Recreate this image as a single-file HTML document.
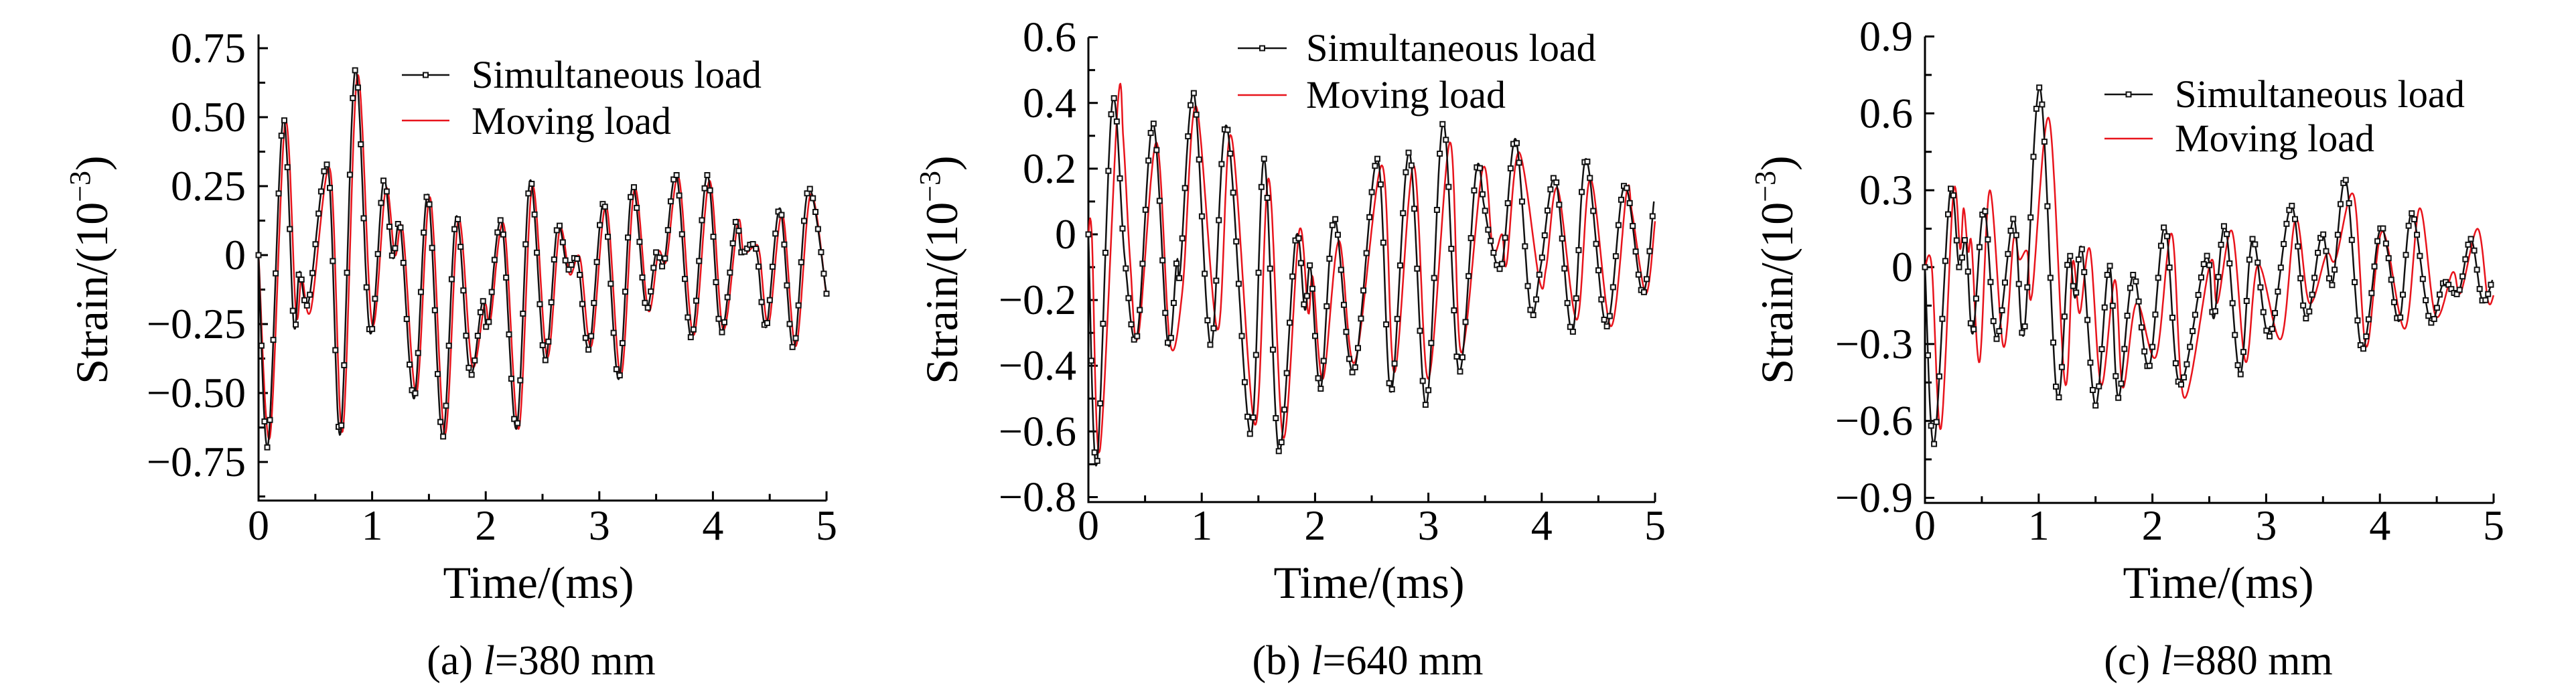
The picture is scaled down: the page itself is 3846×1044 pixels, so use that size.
<!DOCTYPE html>
<html><head><meta charset="utf-8"><style>
html,body{margin:0;padding:0;background:#fff;}
svg, svg text{font-family:"Liberation Serif","Times New Roman","DejaVu Serif",serif;}
</style></head><body>
<svg id="fig" width="3846" height="1039" viewBox="0 0 3846 1039" font-family="Liberation Serif, DejaVu Serif, serif" xmlns="http://www.w3.org/2000/svg"></svg>
<script>
// ---- Panel (a) l=380 mm ----
const aSimT=[0,0.083,0.215,0.31,0.36,0.44,0.61,0.72,0.85,0.98,1.10,1.18,1.25,1.37,1.49,1.62,1.74,1.86,1.97,2.02,2.14,2.27,2.39,2.52,2.63,2.72,2.81,2.91,3.04,3.17,3.29,3.41,3.50,3.57,3.68,3.81,3.95,4.07,4.20,4.25,4.34,4.39,4.47,4.59,4.71,4.84,5.0];
const aSimV=[0,-0.69,0.49,-0.25,-0.06,-0.17,0.32,-0.65,0.67,-0.28,0.27,-0.01,0.10,-0.52,0.22,-0.66,0.14,-0.43,-0.17,-0.26,0.12,-0.63,0.27,-0.38,0.10,-0.05,-0.02,-0.34,0.19,-0.45,0.25,-0.19,0.01,-0.03,0.29,-0.30,0.29,-0.28,0.12,0.01,0.04,0.0,-0.26,0.17,-0.34,0.24,-0.14];
const aMovT=[0,0.10,0.235,0.33,0.38,0.46,0.63,0.74,0.87,1.00,1.12,1.20,1.27,1.39,1.51,1.64,1.76,1.88,1.99,2.04,2.16,2.29,2.41,2.54,2.65,2.74,2.83,2.93,3.06,3.19,3.31,3.43,3.52,3.59,3.70,3.83,3.97,4.09,4.22,4.27,4.36,4.41,4.49,4.61,4.73,4.86,5.0];
const aMovV=[0,-0.66,0.48,-0.21,-0.08,-0.20,0.31,-0.64,0.65,-0.25,0.24,0.00,0.09,-0.50,0.21,-0.65,0.13,-0.40,-0.18,-0.24,0.11,-0.63,0.25,-0.37,0.09,-0.07,-0.01,-0.33,0.18,-0.44,0.24,-0.20,0.01,-0.02,0.28,-0.29,0.27,-0.27,0.12,0.01,0.03,0.01,-0.25,0.15,-0.33,0.22,-0.15];
const aYTicks=[-0.75,-0.5,-0.25,0,0.25,0.5,0.75];
const aYLabels=["−0.75","−0.50","−0.25","0","0.25","0.50","0.75"];
// ---- Panel (b) l=640 mm ----
const bSimT=[0,0.074,0.21,0.32,0.43,0.57,0.70,0.78,0.81,0.93,1.08,1.22,1.43,1.55,1.68,1.83,1.91,1.96,2.05,2.17,2.34,2.55,2.67,2.83,2.98,3.13,3.27,3.42,3.49,3.55,3.65,3.77,3.90,3.99,4.12,4.27,4.39,4.57,4.73,4.89,4.99];
const bSimV=[0,-0.70,0.40,-0.07,-0.31,0.34,-0.33,-0.08,-0.11,0.43,-0.34,0.33,-0.61,0.23,-0.66,-0.01,-0.23,-0.10,-0.47,0.05,-0.42,0.23,-0.48,0.25,-0.52,0.34,-0.42,0.19,0.09,-0.02,-0.09,0.29,-0.23,-0.10,0.17,-0.30,0.23,-0.28,0.15,-0.18,0.10];
const bMovT=[0,0.03,0.10,0.26,0.31,0.37,0.44,0.60,0.72,0.83,0.95,1.14,1.26,1.47,1.59,1.72,1.86,1.94,1.98,2.07,2.21,2.35,2.59,2.70,2.87,3.00,3.19,3.29,3.48,3.57,3.65,3.69,3.80,3.98,4.04,4.14,4.31,4.43,4.61,4.75,4.80,4.92,5.0];
const bMovV=[0,0,-0.66,0.40,0.28,-0.09,-0.31,0.28,-0.33,-0.17,0.39,-0.29,0.30,-0.58,0.17,-0.62,0.01,-0.24,-0.13,-0.44,-0.02,-0.39,0.21,-0.42,0.21,-0.44,0.28,-0.36,0.20,-0.05,0.0,-0.09,0.25,-0.14,-0.10,0.14,-0.26,0.17,-0.28,0.13,0.06,-0.18,0.04];
const bYTicks=[-0.8,-0.6,-0.4,-0.2,0,0.2,0.4,0.6];
const bYLabels=["−0.8","−0.6","−0.4","−0.2","0","0.2","0.4","0.6"];
// ---- Panel (c) l=880 mm ----
const cSimT=[0,0.08,0.22,0.30,0.36,0.42,0.52,0.63,0.78,0.87,1.01,1.16,1.26,1.32,1.38,1.50,1.62,1.70,1.83,1.97,2.11,2.24,2.47,2.54,2.64,2.77,2.88,3.03,3.22,3.35,3.49,3.58,3.70,3.84,3.99,4.06,4.17,4.28,4.44,4.56,4.69,4.80,4.90,4.99];
const cSimV=[0,-0.69,0.29,0,0.10,-0.26,0.23,-0.28,0.19,-0.26,0.70,-0.50,0.04,-0.12,0.07,-0.54,0.01,-0.51,-0.03,-0.39,0.16,-0.46,0.04,-0.20,0.16,-0.42,0.11,-0.27,0.24,-0.20,0.13,-0.07,0.34,-0.32,0.13,0.08,-0.21,0.21,-0.21,-0.06,-0.10,0.11,-0.13,-0.05];
const cMovT=[0,0.06,0.14,0.25,0.31,0.34,0.38,0.41,0.48,0.57,0.69,0.78,0.83,0.90,0.94,1.09,1.23,1.30,1.36,1.45,1.55,1.67,1.74,1.86,2.03,2.17,2.28,2.51,2.57,2.70,2.82,2.93,3.13,3.26,3.38,3.53,3.61,3.77,3.88,4.02,4.22,4.35,4.49,4.64,4.71,4.86,4.95,5.0];
const cMovV=[0,0,-0.63,0.29,0.07,0.23,0.06,0.09,-0.37,0.30,-0.31,0.11,0.03,0.06,-0.11,0.58,-0.45,0.02,-0.18,0.07,-0.46,-0.05,-0.47,-0.14,-0.35,0.13,-0.51,0.02,-0.14,0.14,-0.37,0.01,-0.28,0.19,-0.14,0.05,0.03,0.28,-0.31,0.14,-0.24,0.23,-0.19,-0.02,-0.10,0.15,-0.13,-0.11];
const cYTicks=[-0.9,-0.6,-0.3,0,0.3,0.6,0.9];
const cYLabels=["−0.9","−0.6","−0.3","0","0.3","0.6","0.9"];
const xTicks=[0,1,2,3,4,5];
const xLabels=["0","1","2","3","4","5"];

const NS="http://www.w3.org/2000/svg";
const FF='"Liberation Serif","Times New Roman","DejaVu Serif",serif';
const svg=document.getElementById('fig');
function mk(tag,attrs,parent,text){const e=document.createElementNS(NS,tag);for(const k in attrs)e.setAttribute(k,attrs[k]);if(tag==='text')e.setAttribute('style','font-family:'+FF);if(text!==undefined)e.textContent=text;(parent||svg).appendChild(e);return e;}

const panels=[
 {id:'a',x0:386,x5:1234,y0:381,k:412,yMin:-0.89,yMax:0.8,minorStep:0.125,yt:aYTicks,yl:aYLabels,sT:aSimT,sV:aSimV,mT:aMovT,mV:aMovV,
  labR:367,titleX:160,cap:"380",capX:808,titleCX:804,legLine:[600,671],legText:704,legY:[112,180],legBase:[131,200]},
 {id:'b',x0:1625,x5:2471,y0:350,k:490.6,yMin:-0.815,yMax:0.6,minorStep:0.1,yt:bYTicks,yl:bYLabels,sT:bSimT,sV:bSimV,mT:bMovT,mV:bMovV,
  labR:1607,titleX:1429,cap:"640",capX:2042,titleCX:2044,legLine:[1848,1921],legText:1950,legY:[72,142],legBase:[91,161]},
 {id:'c',x0:2874,x5:3723,y0:399,k:382.8,yMin:-0.92,yMax:0.9,minorStep:0.15,yt:cYTicks,yl:cYLabels,sT:cSimT,sV:cSimV,mT:cMovT,mV:cMovV,
  labR:2856,titleX:2676,cap:"880",capX:3312,titleCX:3312,legLine:[3142,3214],legText:3247,legY:[141,207],legBase:[160,226]}
];

function sample(T,V,step){
  const out=[];
  for(let i=0;i<T.length-1;i++){
    const p0=i>0?i-1:i,p3=i+2<T.length?i+2:i+1;
    const n=Math.max(2,Math.ceil((T[i+1]-T[i])/step));
    for(let j=0;j<n;j++){
      const s=j/n,s2=s*s,s3=s2*s;
      const f=(a,b,c,d)=>0.5*((2*b)+(-a+c)*s+(2*a-5*b+4*c-d)*s2+(-a+3*b-3*c+d)*s3);
      out.push([f(T[p0],T[i],T[i+1],T[p3]),f(V[p0],V[i],V[i+1],V[p3])]);
    }
  }
  out.push([T[T.length-1],V[V.length-1]]);
  return out;
}

panels.forEach(p=>{
  const X=t=>p.x0+(p.x5-p.x0)*t/5;
  const Y=v=>p.y0-v*p.k;
  const g=mk('g',{});
  
  
  const yb=Y(p.yMin), yt=Y(p.yMax);
  const ax=mk('path',{d:`M${p.x0},${yt} L${p.x0},${yb} L${p.x5},${yb}`,fill:'none',stroke:'#000','stroke-width':3},g);
  
  
  for(let t=0;t<=5.001;t+=0.5){
    const maj=Math.abs(t-Math.round(t))<1e-6;
    mk('line',{x1:X(t),x2:X(t),y1:yb,y2:yb-(maj?14:10),stroke:'#000','stroke-width':3},g);
  }
  xTicks.forEach((t,i)=>{
    const tx=mk('text',{x:X(t),y:806,'font-size':64,'text-anchor':'middle'},g,xLabels[i]);
    
    
  });
  const ms=p.minorStep;
  for(let v=Math.ceil(p.yMin/ms)*ms; v<=p.yMax+1e-6; v+=ms){
    const maj=p.yt.some(q=>Math.abs(q-v)<1e-6);
    mk('line',{x1:p.x0,x2:p.x0+(maj?14:10),y1:Y(v),y2:Y(v),stroke:'#000','stroke-width':3},g);
  }
  p.yt.forEach((v,i)=>{
    const tx=mk('text',{x:p.labR,y:Y(v)+21,'font-size':64,'text-anchor':'end'},g,p.yl[i]);
    
    
  });
  const xt=mk('text',{x:p.titleCX,y:893,'font-size':68,'text-anchor':'middle',textLength:285,lengthAdjust:'spacingAndGlyphs'},g,'Time/(ms)');
  
  
  const ytl=mk('text',{x:0,y:0,'font-size':68,'text-anchor':'middle',transform:`translate(${p.titleX},403) rotate(-90)`},g);
  
  
  mk('tspan',{},ytl,'Strain/(10');
  mk('tspan',{dy:-26,'font-size':44},ytl,'−3');
  mk('tspan',{dy:26},ytl,')');
  const cap=mk('text',{x:p.capX,y:1007,'font-size':62,'text-anchor':'middle'},g);
  
  
  mk('tspan',{},cap,'('+p.id+') ');
  mk('tspan',{'font-style':'italic'},cap,'l');
  mk('tspan',{},cap,'='+p.cap+' mm');
  const sm=sample(p.sT,p.sV,0.005);
  const mv=sample(p.mT,p.mV,0.005);
  const toD=pts=>pts.map((q,i)=>(i?'L':'M')+X(q[0]).toFixed(1)+','+Y(q[1]).toFixed(1)).join(' ');
  const red=mk('path',{d:toD(mv),fill:'none',stroke:'#e8141c','stroke-width':2.5,'stroke-linejoin':'round'},g);
  
  
  const blk=mk('path',{d:toD(sm),fill:'none',stroke:'#111','stroke-width':2.5,'stroke-linejoin':'round'},g);
  
  
  let next=0;
  sm.forEach(q=>{
    if(q[0]>=next-1e-9){
      next+=0.025;
      const r=mk('rect',{x:X(q[0])-3.5,y:Y(q[1])-3.5,width:7,height:7,fill:'#fff',stroke:'#111','stroke-width':2},g);
      
      
    }
  });
  const lg=mk('g',{},g);
  
  
  mk('line',{x1:p.legLine[0],x2:p.legLine[1],y1:p.legY[0],y2:p.legY[0],stroke:'#111','stroke-width':2.5},lg);
  const mc=(p.legLine[0]+p.legLine[1])/2;
  mk('rect',{x:mc-3.5,y:p.legY[0]-3.5,width:7,height:7,fill:'#fff',stroke:'#111','stroke-width':2},lg);
  const l1=mk('text',{x:p.legText,y:p.legBase[0],'font-size':58,textLength:433,lengthAdjust:'spacingAndGlyphs'},lg,'Simultaneous load');
  
  
  mk('line',{x1:p.legLine[0],x2:p.legLine[1],y1:p.legY[1],y2:p.legY[1],stroke:'#e8141c','stroke-width':2.5},lg);
  const l2=mk('text',{x:p.legText,y:p.legBase[1],'font-size':58,textLength:298,lengthAdjust:'spacingAndGlyphs'},lg,'Moving load');
  
  
});
</script>
</body></html>
